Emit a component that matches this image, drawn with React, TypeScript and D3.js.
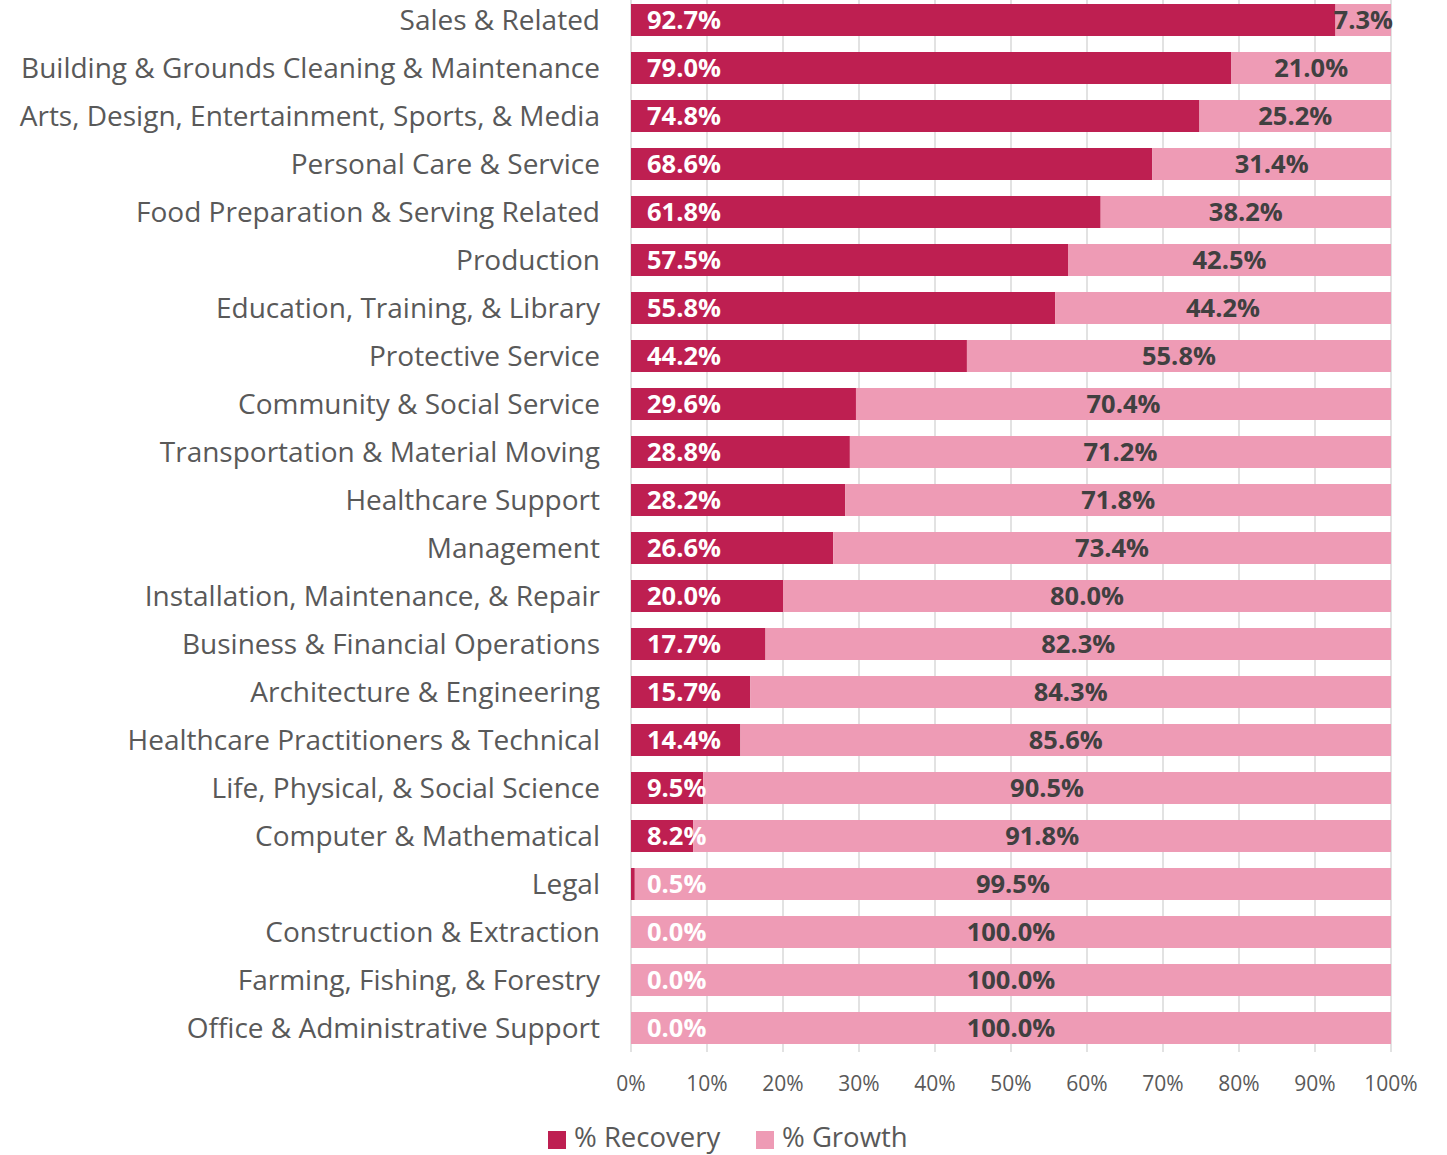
import React from "react";
import * as d3 from "d3";

const categories = [
  "Sales & Related",
  "Building & Grounds Cleaning & Maintenance",
  "Arts, Design, Entertainment, Sports, & Media",
  "Personal Care & Service",
  "Food Preparation & Serving Related",
  "Production",
  "Education, Training, & Library",
  "Protective Service",
  "Community & Social Service",
  "Transportation & Material Moving",
  "Healthcare Support",
  "Management",
  "Installation, Maintenance, & Repair",
  "Business & Financial Operations",
  "Architecture & Engineering",
  "Healthcare Practitioners & Technical",
  "Life, Physical, & Social Science",
  "Computer & Mathematical",
  "Legal",
  "Construction & Extraction",
  "Farming, Fishing, & Forestry",
  "Office & Administrative Support",
];
const recovery = [92.7, 79.0, 74.8, 68.6, 61.8, 57.5, 55.8, 44.2, 29.6, 28.8, 28.2, 26.6, 20.0, 17.7, 15.7, 14.4, 9.5, 8.2, 0.5, 0.0, 0.0, 0.0];
const growth = [7.3, 21.0, 25.2, 31.4, 38.2, 42.5, 44.2, 55.8, 70.4, 71.2, 71.8, 73.4, 80.0, 82.3, 84.3, 85.6, 90.5, 91.8, 99.5, 100.0, 100.0, 100.0];
const xTicks = [0, 10, 20, 30, 40, 50, 60, 70, 80, 90, 100];
const seriesNames = ["% Recovery", "% Growth"];

const W = 1447;
const H = 1155;
const DARK = "#BE1F51";
const LIGHT = "#EE9BB5";
const FONT = "'Open Sans', 'Noto Sans', sans-serif";

export default function App() {
  const x = d3.scaleLinear().domain([0, 100]).range([631, 1391]);
  const y = d3.scaleBand<string>().domain(categories).range([-4, 1052]).paddingInner(1 / 3).paddingOuter(1 / 6);
  const bh = y.bandwidth();

  return (
    <div style={{ position: "absolute", left: 0, top: 0 }}>
      <svg width={W} height={H} style={{ display: "block", background: "#fff" }}>
        {xTicks.map((t) => (
          <line key={"g" + t} x1={x(t)} x2={x(t)} y1={0} y2={1052} stroke="#D9D9D9" strokeWidth={1.5} />
        ))}
        {categories.map((c, i) => {
          const y0 = y(c)!;
          const cy = y0 + bh / 2;
          return (
            <g key={c}>
              <rect x={x(0)} y={y0} width={x(recovery[i]) - x(0)} height={bh} fill={DARK} />
              <rect x={x(recovery[i])} y={y0} width={x(recovery[i] + growth[i]) - x(recovery[i])} height={bh} fill={LIGHT} />
              <text x={600} y={cy} dy="0.34em" textAnchor="end" fontFamily={FONT} fontSize={28} fill="#595959">
                {c}
              </text>
              <text x={x(0) + 16} y={cy} dy="0.36em" fontFamily={FONT} fontWeight={700} fontSize={25.5} fill="#FFFFFF">
                {recovery[i].toFixed(1) + "%"}
              </text>
              <text
                x={x(recovery[i] + growth[i] / 2)}
                y={cy}
                dy="0.36em"
                textAnchor="middle"
                fontFamily={FONT}
                fontWeight={700}
                fontSize={25.5}
                fill="#404040"
              >
                {growth[i].toFixed(1) + "%"}
              </text>
            </g>
          );
        })}
        {xTicks.map((t) => (
          <text key={"t" + t} x={x(t)} y={1091} textAnchor="middle" fontFamily={FONT} fontSize={21} fill="#595959">
            {t + "%"}
          </text>
        ))}
        <g>
          <rect x={548} y={1131} width={18} height={18} fill={DARK} />
          <text x={574} y={1147} fontFamily={FONT} fontSize={27.5} fill="#595959">
            {seriesNames[0]}
          </text>
          <rect x={756} y={1131} width={18} height={18} fill={LIGHT} />
          <text x={782} y={1147} fontFamily={FONT} fontSize={27.5} fill="#595959">
            {seriesNames[1]}
          </text>
        </g>
      </svg>
    </div>
  );
}
